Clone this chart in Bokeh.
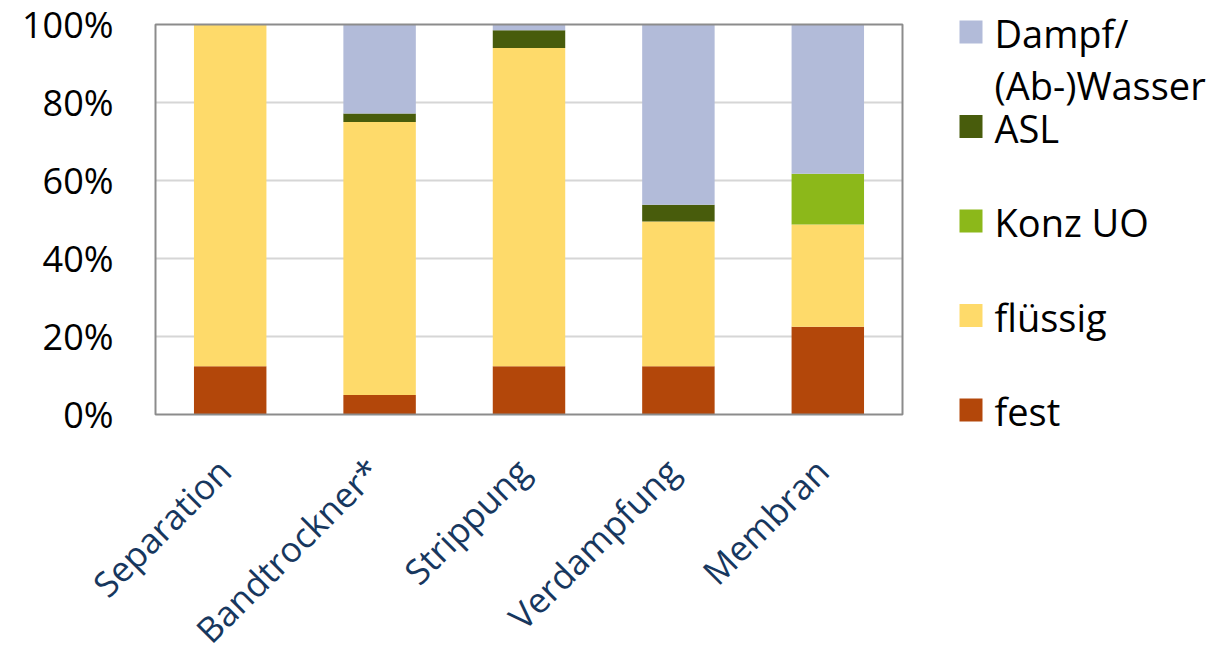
import math

from bokeh.core.properties import value
from bokeh.embed import file_html
from bokeh.models import ColumnDataSource, Range1d
from bokeh.plotting import figure
from bokeh.resources import INLINE

# Anteile der Produktströme je Verfahren (in %)
verfahren = ["Separation", "Bandtrockner*", "Strippung", "Verdampfung", "Membran"]
fest = [12.4, 5.0, 12.4, 12.4, 22.5]
fluessig = [87.6, 70.0, 81.6, 37.1, 26.2]
konz_uo = [0.0, 0.0, 0.0, 0.0, 13.0]
asl = [0.0, 2.2, 4.5, 4.3, 0.0]
dampf = [0.0, 22.8, 1.5, 46.2, 38.3]
y_ticks = [0, 20, 40, 60, 80, 100]
y_tick_labels = [f"{t}%" for t in y_ticks]

series_keys = ["fest", "fluessig", "konz_uo", "asl", "dampf"]
series_labels = ["fest", "flüssig", "Konz UO", "ASL", "Dampf/\n(Ab-)Wasser"]
series_colors = ["#B3470A", "#FEDA6A", "#8CB81A", "#485C0C", "#B2BBD9"]

FONT = "Open Sans"

# Seitenmaße und Lage des Diagrammkastens (Pixel)
W, H = 1230, 651
BOX_L, BOX_R, BOX_T, BOX_B = 155, 902, 24, 414
n = len(verfahren)
px_per_cat = (BOX_R - BOX_L) / n
px_per_pct = (BOX_B - BOX_T) / 100

# Die Zeichenfläche füllt die ganze Seite; die Wertebereiche werden so gewählt,
# dass 0..100 % und die Kategorien genau im Diagrammkasten liegen.
x_lo = -0.5 - BOX_L / px_per_cat
x_hi = -0.5 + (W - BOX_L) / px_per_cat
y_lo = -(H - BOX_B) / px_per_pct
y_hi = 100 + BOX_T / px_per_pct

pos = list(range(n))
source = ColumnDataSource(dict(
    pos=pos, fest=fest, fluessig=fluessig,
    konz_uo=konz_uo, asl=asl, dampf=dampf,
))

p = figure(
    x_range=Range1d(x_lo, x_hi),
    y_range=Range1d(y_lo, y_hi),
    width=W, height=H, min_border=0,
    x_axis_location=None, y_axis_location=None,
    toolbar_location=None, output_backend="svg",
    background_fill_color="white", border_fill_color="white",
    outline_line_color=None,
)
p.grid.visible = False

# Pixel-Koordinaten (Seite) für Beschriftungen und Legende
p.extra_x_ranges = {"px": Range1d(0, W)}
p.extra_y_ranges = {"px": Range1d(H, 0)}

# Hilfslinien
grid_vals = [t for t in y_ticks if 0 < t < 100]
p.segment(x0=[-0.5] * len(grid_vals), x1=[n - 0.5] * len(grid_vals),
          y0=grid_vals, y1=grid_vals, line_color="#D6D6D6", line_width=2)

# Gestapelte Säulen
p.vbar_stack(series_keys, x="pos", width=0.485, color=series_colors,
             line_color=None, source=source)

# Rahmen des Diagrammkastens
p.quad(left=[-0.5], right=[n - 0.5], bottom=[0], top=[100],
       fill_color=None, line_color="#8C8C8C", line_width=2)

# Beschriftung der Werteachse
p.text(x=[BOX_L - 42] * len(y_ticks), y=y_ticks, text=y_tick_labels,
       x_range_name="px", text_align="right", text_baseline="middle",
       text_font=value(FONT), text_font_size="36px", text_color="#000000")

# Kategorienbeschriftung, um 45° gedreht
p.text(x=pos, y=[BOX_B + 50] * n, text=verfahren, y_range_name="px",
       x_offset=-6, angle=math.pi / 4, text_align="right", text_baseline="middle",
       text_font=value(FONT), text_font_size="35px", text_color="#17375E")

# Legende: Farbfeld + (ggf. mehrzeiliger) Text, oberster Stapelteil zuerst
entry_top0, entry_step, box = 20, 94.5, 23
box_left, text_left = 959, 994
leg_font_px = 38
line_gap = 52

q_l, q_r, q_t, q_b, q_c = [], [], [], [], []
t_x, t_y, t_s = [], [], []
for i, (label, color) in enumerate(zip(reversed(series_labels), reversed(series_colors))):
    top = entry_top0 + i * entry_step
    q_l.append(box_left)
    q_r.append(box_left + box)
    q_t.append(top)
    q_b.append(top + box)
    q_c.append(color)
    for j, line in enumerate(label.split("\n")):
        t_x.append(text_left)
        t_y.append(top + box / 2 + 1 + j * line_gap)
        t_s.append(line)

p.quad(left=q_l, right=q_r, top=q_t, bottom=q_b, color=q_c, line_color=None,
       x_range_name="px", y_range_name="px")
p.text(x=t_x, y=t_y, text=t_s, x_range_name="px", y_range_name="px",
       text_font=value(FONT), text_font_size=f"{leg_font_px}px",
       text_baseline="middle", text_align="left", text_color="#000000")

with open("out.html", "w") as f:
    f.write(file_html(p, INLINE))
